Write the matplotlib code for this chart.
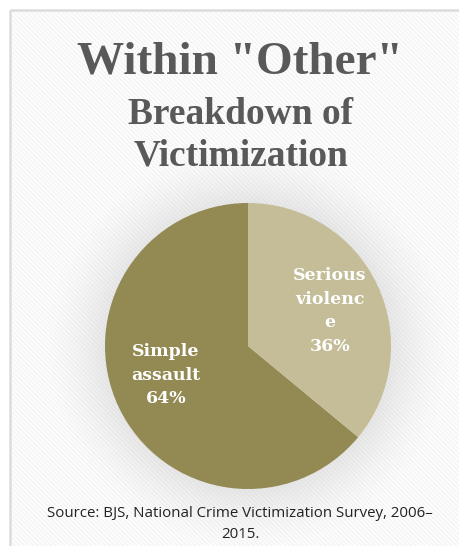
import matplotlib.pyplot as plt
import numpy as np

# data
categories = ["Simple\nassault", "Serious\nviolenc\ne"]
shares = [64, 36]
colors = ["#938953", "#C4BD97"]

title = 'Within "Other"'
subtitle = "Breakdown of\nVictimization"
source = "Source: BJS, National Crime Victimization Survey, 2006\u2013\n2015."

W, H = 460, 546
fig = plt.figure(figsize=(W / 100, H / 100), dpi=100)

# background in pixel coordinates
bg = fig.add_axes([0, 0, 1, 1])
frame = plt.Rectangle((10, 10), W, H, facecolor="#f2f2f2",
                      edgecolor="none", zorder=0)
bg.add_patch(frame)
# diagonal stripes
for s in np.arange(-H, W, 4.5):
    ln, = bg.plot([10 + s, 10 + s + H], [10, 10 + H], color="#fdfdfd",
                  linewidth=1.5, zorder=1)
    ln.set_clip_path(frame)

# soft glow around the pie
cx, cy, R = 248, 346, 143
yy, xx = np.mgrid[0:H, 0:W]
r = np.hypot(xx - cx, yy - cy)
alpha = np.clip(1 - (r - R) / 60, 0, 1) ** 1.5 * 0.28
glow = np.zeros((H, W, 4))
glow[..., :3] = 0.70
glow[..., 3] = alpha
bg.imshow(glow, extent=(0, W, H, 0), zorder=2, interpolation="bilinear")
bg.add_patch(plt.Rectangle((10, 10), W, H, facecolor="none",
                           edgecolor="#dcdcdc", linewidth=1.8, zorder=3))
bg.set_xlim(0, W)
bg.set_ylim(H, 0)
bg.axis("off")

# pie
ax = fig.add_axes([(cx - R) / W, (H - cy - R) / H, 2 * R / W, 2 * R / H])
ax.pie(shares, colors=colors, startangle=90, counterclock=True,
       wedgeprops=dict(linewidth=0))
ax.set_xlim(-1, 1)
ax.set_ylim(-1, 1)
ax.set_aspect("auto")
ax.axis("off")

lab_font = dict(family="DejaVu Serif", weight="bold", color="white",
                fontsize=12.5, ha="center", va="center", linespacing=1.5)
fig.text(166 / W, 1 - 375 / H, f"{categories[0]}\n{shares[0]}%", **lab_font)
fig.text(330 / W, 1 - 311 / H, f"{categories[1]}\n{shares[1]}%", **lab_font)

fig.text(240 / W, 1 - 62 / H, title, family="Liberation Serif", weight="bold",
         color="#595959", fontsize=34, ha="center", va="center")
fig.text(241 / W, 1 - 135 / H, subtitle, family="Liberation Serif", weight="bold",
         color="#595959", fontsize=27, ha="center", va="center", linespacing=1.25)
fig.text(240 / W, 1 - 524 / H, source, family="Open Sans", color="#222222",
         fontsize=10.8, ha="center", va="center", linespacing=1.6)

fig.savefig("out.png", dpi=100)
